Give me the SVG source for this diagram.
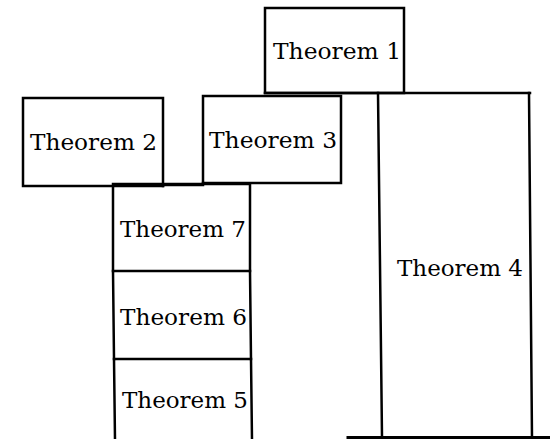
<svg xmlns="http://www.w3.org/2000/svg" width="550" height="439" viewBox="0 0 550 439">
<style>
.box{fill:none;stroke:#000;stroke-width:2.5;stroke-linecap:square}
.ln{fill:none;stroke:#000;stroke-width:2.5;stroke-linecap:square}
.t{font-family:"DejaVu Serif","Liberation Serif",serif;font-size:22.5px;fill:#000}
</style>
<rect width="550" height="439" fill="#fff"/>
<g id="connectors">
<path class="ln" d="M265,93 L530,93"/>
<path class="ln" d="M163,186 L163,185 L203,185 L203,183"/>
<path class="ln" d="M348,437.5 L550,437.5" style="stroke-width:3"/>
</g>
<g id="theorem1">
<rect class="box" x="265" y="8" width="139" height="85"/>
<text class="t" x="273" y="58.5" textLength="128" lengthAdjust="spacingAndGlyphs">Theorem 1</text>
</g>
<g id="theorem2">
<rect class="box" x="23" y="98" width="140" height="88"/>
<text class="t" x="30" y="150" textLength="127" lengthAdjust="spacingAndGlyphs">Theorem 2</text>
</g>
<g id="theorem3">
<rect class="box" x="203" y="96" width="138" height="87"/>
<text class="t" x="209" y="148" textLength="128" lengthAdjust="spacingAndGlyphs">Theorem 3</text>
</g>
<g id="theorem4">
<path class="box" d="M378,93 L382,437 M529,93 L532,437"/>
<text class="t" x="397" y="275.5" textLength="126" lengthAdjust="spacingAndGlyphs">Theorem 4</text>
</g>
<g id="theorem7">
<path class="box" d="M113,184 L250,184 M113,184 L113,271 M250,184 L250,271"/>
<text class="t" x="120" y="237" textLength="126" lengthAdjust="spacingAndGlyphs">Theorem 7</text>
</g>
<g id="theorem6">
<path class="box" d="M113,271 L250,271 M113,271 L114,359 M250,271 L251,359"/>
<text class="t" x="120" y="325" textLength="127" lengthAdjust="spacingAndGlyphs">Theorem 6</text>
</g>
<g id="theorem5">
<path class="box" d="M114,359 L251,359 M114,359 L115,440 M251,359 L252,440"/>
<text class="t" x="122" y="408" textLength="126" lengthAdjust="spacingAndGlyphs">Theorem 5</text>
</g>
</svg>
